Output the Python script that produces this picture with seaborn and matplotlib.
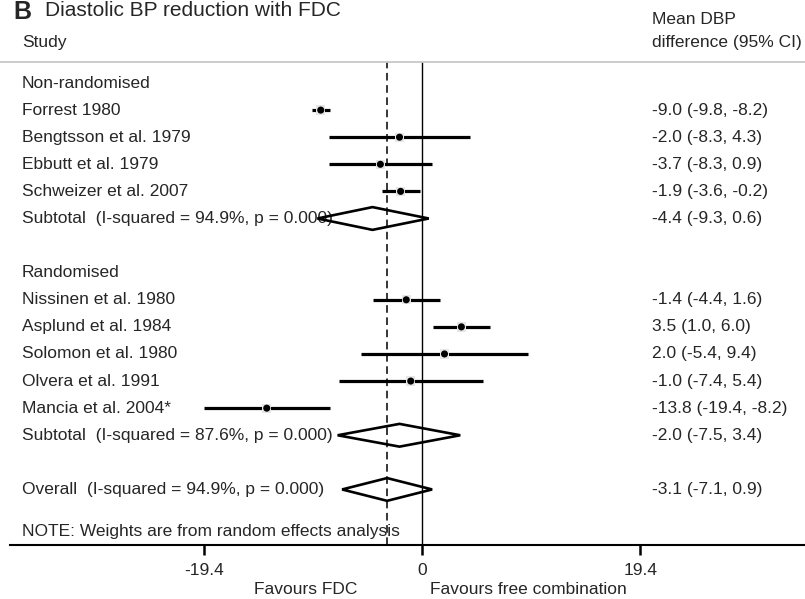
import numpy as np
import pandas as pd
import matplotlib
matplotlib.use("Agg")
import matplotlib.pyplot as plt
from matplotlib.lines import Line2D
from matplotlib.transforms import blended_transform_factory
import seaborn as sns

# study level data (mean DBP difference, 95% CI)
nonrand_studies = ["Forrest 1980", "Bengtsson et al. 1979", "Ebbutt et al. 1979", "Schweizer et al. 2007"]
nonrand_est = [-9.0, -2.0, -3.7, -1.9]
nonrand_lo = [-9.8, -8.3, -8.3, -3.6]
nonrand_hi = [-8.2, 4.3, 0.9, -0.2]

rand_studies = ["Nissinen et al. 1980", "Asplund et al. 1984", "Solomon et al. 1980",
                "Olvera et al. 1991", "Mancia et al. 2004*"]
rand_est = [-1.4, 3.5, 2.0, -1.0, -13.8]
rand_lo = [-4.4, 1.0, -5.4, -7.4, -19.4]
rand_hi = [1.6, 6.0, 9.4, 5.4, -8.2]

# pooled estimates
pooled_labels = ["Subtotal  (I-squared = 94.9%, p = 0.000)",
                 "Subtotal  (I-squared = 87.6%, p = 0.000)",
                 "Overall  (I-squared = 94.9%, p = 0.000)"]
pooled_est = [-4.4, -2.0, -3.1]
pooled_lo = [-9.3, -7.5, -7.1]
pooled_hi = [0.6, 3.4, 0.9]

x_ticks = [-19.4, 0, 19.4]

# 1. Build row table (row 0 is top of the plot)
rows = []
rows.append(dict(label="Non-randomised", kind="header"))
for s, e, l, h in zip(nonrand_studies, nonrand_est, nonrand_lo, nonrand_hi):
    rows.append(dict(label=s, kind="study", est=e, lo=l, hi=h))
rows.append(dict(label=pooled_labels[0], kind="pooled", est=pooled_est[0], lo=pooled_lo[0], hi=pooled_hi[0]))
rows.append(dict(label="", kind="blank"))
rows.append(dict(label="Randomised", kind="header"))
for s, e, l, h in zip(rand_studies, rand_est, rand_lo, rand_hi):
    rows.append(dict(label=s, kind="study", est=e, lo=l, hi=h))
rows.append(dict(label=pooled_labels[1], kind="pooled", est=pooled_est[1], lo=pooled_lo[1], hi=pooled_hi[1]))
rows.append(dict(label="", kind="blank"))
rows.append(dict(label=pooled_labels[2], kind="pooled", est=pooled_est[2], lo=pooled_lo[2], hi=pooled_hi[2]))
df = pd.DataFrame(rows)
df["row"] = np.arange(len(df))
studies = df[df["kind"] == "study"]
pooled = df[df["kind"] == "pooled"]

# 2. Style
sns.set_style("white")
plt.rcParams["font.family"] = ["Liberation Sans", "DejaVu Sans"]
fs = 12.5

W, H = 805, 599
fig = plt.figure(figsize=(W / 100, H / 100), dpi=100)
top_px, bot_px = 62, 545
ax = fig.add_axes([10 / W, 1 - bot_px / H, 1 - 10 / W, (bot_px - top_px) / H])
ax.set_xlim((10 - 422) / 11.25, (805 - 422) / 11.25)
ax.set_ylim(17.05, -0.775)

# reference lines
ax.axvline(0, color="black", lw=1.0, zorder=1)
ax.axvline(pooled_est[-1], color="black", lw=1.1, ls=(0, (5, 3)), zorder=1)

# confidence intervals
ax.hlines(studies["row"], studies["lo"], studies["hi"], color="black", lw=2.3, zorder=2)
# weight boxes + point estimates
sns.scatterplot(data=studies, x="est", y="row", marker="s", s=45, color="#e6e6e6",
                edgecolor="none", ax=ax, zorder=3, legend=False)
sns.scatterplot(data=studies, x="est", y="row", marker="o", s=26, color="black",
                edgecolor="none", ax=ax, zorder=4, legend=False)
ax.set_xlabel("")
ax.set_ylabel("")

# pooled diamonds
for _, r in pooled.iterrows():
    ax.fill([r["lo"], r["est"], r["hi"], r["est"], r["lo"]],
            [r["row"], r["row"] - 0.42, r["row"], r["row"] + 0.42, r["row"]],
            facecolor="none", edgecolor="black", lw=1.9, zorder=5)

# 3. Text columns
trans = blended_transform_factory(fig.transFigure, ax.transData)
for _, r in df.iterrows():
    if r["label"]:
        ax.text(22 / W, r["row"], r["label"], transform=trans, fontsize=fs,
                va="center", ha="left", zorder=0)
    if r["kind"] in ("study", "pooled"):
        ax.text(652 / W, r["row"], f"{r['est']:.1f} ({r['lo']:.1f}, {r['hi']:.1f})",
                transform=trans, fontsize=fs, va="center", ha="left")
ax.text(22 / W, 16.55, "NOTE: Weights are from random effects analysis", transform=trans,
        fontsize=fs, va="center", ha="left")

fig.text(13 / W, 1 - 12 / H, "B", fontsize=18, fontweight="bold", va="center", ha="left")
fig.text(45 / W, 1 - 11 / H, "Diastolic BP reduction with FDC", fontsize=15, va="center", ha="left")
fig.text(22 / W, 1 - 42 / H, "Study", fontsize=fs, va="center", ha="left")
fig.text(652 / W, 1 - 19 / H, "Mean DBP", fontsize=fs, va="center", ha="left")
fig.text(652 / W, 1 - 42 / H, "difference (95% CI)", fontsize=fs, va="center", ha="left")
fig.add_artist(Line2D([0, 1], [1 - 62 / H, 1 - 62 / H], transform=fig.transFigure,
                      color="#c8c8c8", lw=1.3))

# 4. Axis
for side in ["top", "left", "right"]:
    ax.spines[side].set_visible(False)
ax.spines["bottom"].set_linewidth(1.5)
ax.spines["bottom"].set_color("black")
ax.set_yticks([])
ax.set_xticks(x_ticks)
ax.set_xticklabels(["-19.4", "0", "19.4"])
ax.tick_params(axis="x", direction="out", length=7, width=1.8, labelsize=fs, pad=6,
               bottom=True, color="black")
axis_trans = blended_transform_factory(ax.transData, fig.transFigure)
ax.text(-5.7, 1 - 590 / H, "Favours FDC", transform=axis_trans, fontsize=fs, ha="right", va="center")
ax.text(0.7, 1 - 590 / H, "Favours free combination", transform=axis_trans, fontsize=fs, ha="left", va="center")

fig.savefig("out.png", dpi=100, facecolor="white")
plt.close(fig)
